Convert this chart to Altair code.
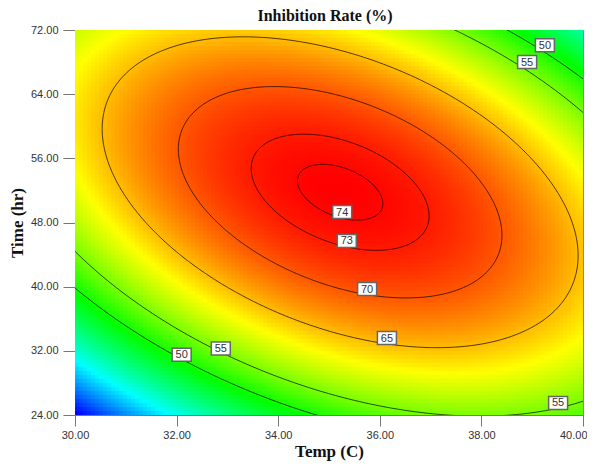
import numpy as np
import pandas as pd
import altair as alt

# ---- values ----
temp_ticks = [30, 32, 34, 36, 38, 40]
time_ticks = [24, 32, 40, 48, 56, 64, 72]
temp_range = [30, 40]
time_range = [24, 72]

# quadratic response-surface model in coded units (A = Temp, B = Time),
# estimated from the contour shapes of the reference
coef_b0 = 73.77
coef_A = 3.0
coef_B = 5.9
coef_AB = -12.0
coef_A2 = -12.7
coef_B2 = -17.1

contour_levels = [50, 55, 65, 70, 73, 74]

label_text = ["74", "73", "70", "65", "55", "50", "55", "50", "55"]
label_temp = [35.26, 35.35, 35.75, 36.14, 32.87, 32.10, 38.90, 39.25, 39.51]
label_time = [49.3, 45.7, 39.7, 33.6, 32.3, 31.5, 68.0, 70.1, 25.5]

color_range = ["#0000ff", "#00ffff", "#00ff00", "#ffff00", "#ff0000"]

# ---- build surface grid ----
def coded(T, t):
    return (T - 35.0) / 5.0, (t - 48.0) / 24.0

def model(T, t):
    a, b = coded(T, t)
    return coef_b0 + coef_A * a + coef_B * b + coef_AB * a * b + coef_A2 * a * a + coef_B2 * b * b

nx, ny = 127, 96
dT = (temp_range[1] - temp_range[0]) / nx
dt = (time_range[1] - time_range[0]) / ny
cells = []
for i in range(nx):
    T0 = temp_range[0] + i * dT
    for j in range(ny):
        t0 = time_range[0] + j * dt
        y = model(T0 + dT / 2, t0 + dt / 2)
        cells.append((round(T0, 4), round(T0 + dT * 1.3, 4), round(t0, 4), round(t0 + dt * 1.3, 4), round(y, 3)))
grid = pd.DataFrame(cells, columns=["T0", "T1", "t0", "t1", "Y"])

ymin, ymax = grid["Y"].min(), grid["Y"].max()
stops = list(np.linspace(ymin, ymax, 5))

# ---- contour lines of the quadratic (ellipses) ----
M = np.array([[2 * coef_A2, coef_AB], [coef_AB, 2 * coef_B2]])
a0, b0c = np.linalg.solve(M, -np.array([coef_A, coef_B]))
y_stat = coef_b0 + 0.5 * (coef_A * a0 + coef_B * b0c)
rows = []
theta = np.linspace(0, 2 * np.pi, 721)
for lev in contour_levels:
    c, s = np.cos(theta), np.sin(theta)
    q = -(coef_A2 * c * c + coef_AB * c * s + coef_B2 * s * s)
    r = np.sqrt((y_stat - lev) / q)
    aa = a0 + r * c
    bb = b0c + r * s
    for k in range(len(theta)):
        rows.append((lev, k, 35.0 + 5.0 * aa[k], 48.0 + 24.0 * bb[k]))
contours = pd.DataFrame(rows, columns=["level", "k", "T", "t"])

labels = pd.DataFrame({"text": label_text, "T": label_temp, "t": label_time})

# ---- chart ----
xscale = alt.Scale(domain=temp_range, nice=False, zero=False)
yscale = alt.Scale(domain=time_range, nice=False, zero=False)

axis_common = dict(
    labelFont="Liberation Sans", labelFontSize=11, labelColor="#333333",
    titleFont="Liberation Serif", titleFontSize=17, titleFontWeight="bold", titleColor="#111111",
    domainColor="#777777", tickColor="#777777", grid=False, format=".2f", labelFlush=False,
)

heat = alt.Chart(grid).mark_rect(clip=True, strokeWidth=0).encode(
    x=alt.X("T0:Q", scale=xscale,
            axis=alt.Axis(values=temp_ticks, title="Temp (C)", tickSize=11, labelPadding=3,
                          titlePadding=3,
                          labelAlign=alt.condition("datum.value == 40", alt.value("right"), alt.value("center")),
                          labelOffset=alt.condition("datum.value == 40", alt.value(4), alt.value(0)),
                          **axis_common)),
    x2="T1:Q",
    y=alt.Y("t0:Q", scale=yscale,
            axis=alt.Axis(values=time_ticks, title="Time (hr)", tickSize=12, labelPadding=5,
                          titlePadding=4, **axis_common)),
    y2="t1:Q",
    color=alt.Color("Y:Q", scale=alt.Scale(domain=stops, range=color_range, interpolate="rgb"), legend=None),
)

lines = alt.Chart(contours).mark_line(clip=True, color="#000000", strokeWidth=1, opacity=0.7).encode(
    x=alt.X("T:Q", scale=xscale),
    y=alt.Y("t:Q", scale=yscale),
    detail="level:N",
    order="k:Q",
)

boxes = alt.Chart(labels).mark_point(
    shape="M-1.46,-1H1.46V1H-1.46Z", filled=True, fill="#ffffff", stroke="#666666",
    strokeWidth=1.5, opacity=1, size=169,
).encode(x=alt.X("T:Q", scale=xscale), y=alt.Y("t:Q", scale=yscale))

texts = alt.Chart(labels).mark_text(
    font="Liberation Sans", fontSize=11, color="#333333", align="center", baseline="middle", dy=0.5,
).encode(x=alt.X("T:Q", scale=xscale), y=alt.Y("t:Q", scale=yscale), text="text:N")

chart = alt.layer(heat, lines, boxes, texts).properties(
    width=508, height=385,
    title=alt.Title("Inhibition Rate (%)", font="Liberation Serif", fontSize=16, fontWeight="bold",
                    color="#111111", anchor="middle", offset=0, dx=-4),
    autosize=alt.AutoSizeParams(type="none"),
    padding={"left": 67, "top": 22, "right": 4, "bottom": 46},
).configure_view(stroke="#888888", strokeWidth=1)

chart.save("out.html", embed_options={"renderer": "svg", "actions": False})
